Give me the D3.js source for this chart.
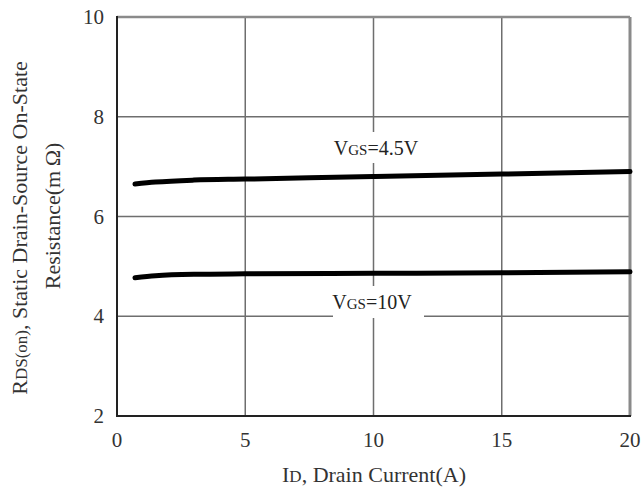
<!DOCTYPE html>
<html>
<head>
<meta charset="utf-8">
<script src="https://cdn.jsdelivr.net/npm/d3@7"></script>
<style>
  html, body { margin: 0; padding: 0; background: #fff; }
  svg { display: block; font-family: "Liberation Serif", "DejaVu Serif", serif; }
</style>
</head>
<body>
<svg id="chart" width="643" height="493"></svg>
<script>
// ---- data ----
var drainCurrent = [0.7, 1.5, 3, 5, 10, 15, 20];
var rdsVgs45 = [6.65, 6.69, 6.73, 6.75, 6.8, 6.85, 6.9];
var rdsVgs10 = [4.77, 4.81, 4.84, 4.85, 4.86, 4.87, 4.89];
var xTicks = [0, 5, 10, 15, 20];
var yTicks = [2, 4, 6, 8, 10];

var svg = d3.select("#chart");
var pL = 117, pR = 630, pT = 17, pB = 416;

var x = d3.scaleLinear().domain([0, 20]).range([pL, pR]);
var y = d3.scaleLinear().domain([2, 10]).range([pB, pT]);

/* ---- grid ---- */
var grid = svg.append("g");
grid.selectAll("line.v")
  .data(xTicks.slice(1, -1))
  .join("line")
  .attr("x1", function (d) { return x(d); })
  .attr("x2", function (d) { return x(d); })
  .attr("y1", pT).attr("y2", pB)
  .attr("stroke", "#6e6e6e").attr("stroke-width", 1.5);
grid.selectAll("line.h")
  .data(yTicks.slice(1, -1))
  .join("line")
  .attr("x1", pL).attr("x2", pR)
  .attr("y1", function (d) { return y(d); })
  .attr("y2", function (d) { return y(d); })
  .attr("stroke", "#6e6e6e").attr("stroke-width", 1.5);

// frame: top/right gray, left/bottom black
svg.append("line").attr("x1", pL).attr("x2", pR).attr("y1", pT).attr("y2", pT)
  .attr("stroke", "#8a8a8a").attr("stroke-width", 2.5);
svg.append("line").attr("x1", pR).attr("x2", pR).attr("y1", pT).attr("y2", pB)
  .attr("stroke", "#8a8a8a").attr("stroke-width", 3);
svg.append("line").attr("x1", pL).attr("x2", pL).attr("y1", pT - 1).attr("y2", pB + 1)
  .attr("stroke", "#222").attr("stroke-width", 2);
svg.append("line").attr("x1", pL - 1).attr("x2", pR + 1).attr("y1", pB).attr("y2", pB)
  .attr("stroke", "#222").attr("stroke-width", 2);

/* ---- axis tick labels ---- */
svg.append("g").selectAll("text")
  .data(xTicks)
  .join("text")
  .attr("x", function (d) { return x(d); })
  .attr("y", 447)
  .attr("text-anchor", "middle")
  .attr("font-size", 21)
  .attr("fill", "#333")
  .text(function (d) { return d; });

svg.append("g").selectAll("text")
  .data(yTicks)
  .join("text")
  .attr("x", 104)
  .attr("y", function (d) { return y(d) + 7; })
  .attr("text-anchor", "end")
  .attr("font-size", 21)
  .attr("fill", "#333")
  .text(function (d) { return d; });

/* ---- curves ---- */
var line = d3.line()
  .x(function (d, i) { return x(drainCurrent[i]); })
  .y(function (d) { return y(d); })
  .curve(d3.curveMonotoneX);

[rdsVgs45, rdsVgs10].forEach(function (s) {
  svg.append("path")
    .attr("d", line(s))
    .attr("fill", "none")
    .attr("stroke", "#000")
    .attr("stroke-width", 5)
    .attr("stroke-linecap", "round");
});

/* ---- curve labels (white boxes hide grid) ---- */
function curveLabel(cx, cy, box, tail) {
  svg.append("rect")
    .attr("x", box[0]).attr("y", box[1])
    .attr("width", box[2]).attr("height", box[3])
    .attr("fill", "#fff");
  var t = svg.append("text")
    .attr("x", cx).attr("y", cy)
    .attr("text-anchor", "middle")
    .attr("font-size", 20)
    .attr("fill", "#222");
  t.append("tspan").text("V");
  t.append("tspan").attr("font-size", 15).text("GS");
  t.append("tspan").text(tail);
}
curveLabel(376, 155, [333, 132, 90, 31], "=4.5V");
curveLabel(372, 309, [333, 286, 91, 32], "=10V");

/* ---- axis titles ---- */
var xt = svg.append("text")
  .attr("x", 374).attr("y", 482)
  .attr("text-anchor", "middle")
  .attr("font-size", 22)
  .attr("fill", "#333");
xt.append("tspan").text("I");
xt.append("tspan").attr("font-size", 17).text("D");
xt.append("tspan").text(", Drain Current(A)");

var yt = svg.append("text")
  .attr("transform", "translate(27,228) rotate(-90)")
  .attr("text-anchor", "middle")
  .attr("font-size", 22)
  .attr("fill", "#333");
yt.append("tspan").text("R");
yt.append("tspan").attr("font-size", 17).text("DS(on)");
yt.append("tspan").text(", Static Drain-Source On-State");

svg.append("text")
  .attr("transform", "translate(60,216) rotate(-90)")
  .attr("text-anchor", "middle")
  .attr("font-size", 22)
  .attr("fill", "#333")
  .text("Resistance(m\u2009\u03A9)");
</script>
</body>
</html>
